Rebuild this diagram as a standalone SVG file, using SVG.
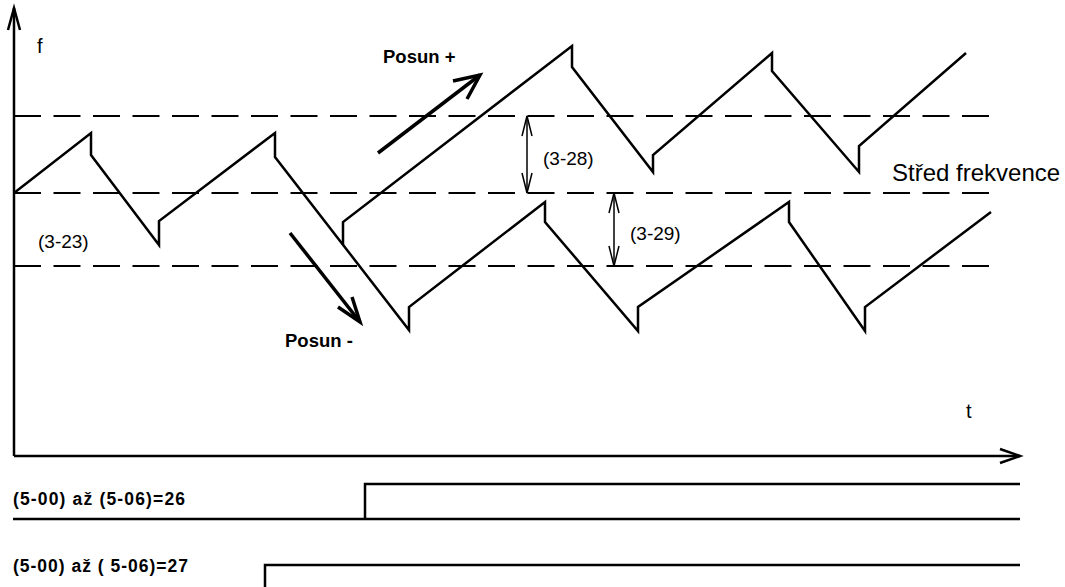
<svg xmlns="http://www.w3.org/2000/svg" width="1065" height="587" viewBox="0 0 1065 587">
<style>
.ax{fill:none;stroke:#000;stroke-width:2.5}
.wv{fill:none;stroke:#000;stroke-width:2.5;stroke-linejoin:miter}
.ds{fill:none;stroke:#000;stroke-width:2;stroke-dasharray:27 12.5}
.dim{fill:none;stroke:#000;stroke-width:1.5}
.sh{fill:none;stroke:#000;stroke-width:3.5}
.sig{fill:none;stroke:#000;stroke-width:2.5}
.t{font-family:"Liberation Sans",Arial,sans-serif;fill:#000}
.b{font-family:"Liberation Sans",Arial,sans-serif;font-weight:bold;fill:#000}
</style>
<rect width="1065" height="587" fill="#fff"/>
<g id="axes">
<polyline class="ax" points="14,456 14,8"/>
<polyline class="ax" points="8,30 14,8 20,30"/>
<polyline class="ax" points="14,456 1020,456"/>
<polyline class="ax" points="1000,449 1020,456 1000,463"/>
</g>
<g id="levels">
<line class="ds" x1="14" y1="116" x2="990" y2="116"/>
<line class="ds" x1="14" y1="193" x2="990" y2="193"/>
<line class="ds" x1="14" y1="266" x2="990" y2="266"/>
</g>
<g id="connectors">
<polyline class="wv" points="14,193 91,133 91,155 159,245 159,221 275,133 275,157 409,330 409,307 545,202 545,222 638,331 638,307 789,202 789,222 865,331 865,307 991,212"/>
<polyline class="wv" points="343,245 343,222 572,46 572,67 653,172 653,155 772,53 772,71 859,172 859,146 966,53"/>
<line class="sh" x1="378" y1="153" x2="480" y2="75"/>
<polyline class="sh" points="453,81 480,75 467,99"/>
<line class="sh" x1="290" y1="233" x2="360" y2="322"/>
<polyline class="sh" points="338,307 360,322 352,297"/>
<line class="dim" x1="527" y1="116" x2="527" y2="193"/>
<polyline class="dim" points="522,136 527,116 532,136"/>
<polyline class="dim" points="522,173 527,193 532,173"/>
<line class="dim" x1="614" y1="193" x2="614" y2="266"/>
<polyline class="dim" points="609,213 614,193 619,213"/>
<polyline class="dim" points="609,246 614,266 619,246"/>
</g>
<g id="signal26">
<polyline class="sig" points="13,519 1020,519"/>
<polyline class="sig" points="365,519 365,484 1020,484"/>
</g>
<g id="signal27">
<polyline class="sig" points="265,590 265,565 1020,565"/>
</g>
<g id="labels">
<text class="t" x="37" y="53" font-size="20">f</text>
<text class="t" x="966" y="418" font-size="20">t</text>
<text class="b" x="383" y="63" font-size="18.5">Posun +</text>
<text class="b" x="285" y="347" font-size="18.5">Posun -</text>
<text class="t" x="543" y="165" font-size="19">(3-28)</text>
<text class="t" x="630" y="240" font-size="19">(3-29)</text>
<text class="t" x="38" y="248" font-size="19">(3-23)</text>
<text class="t" x="892" y="181" font-size="24">Střed frekvence</text>
<text class="b" x="13" y="505" font-size="17.5" textLength="172">(5-00) až  (5-06)=26</text>
<text class="b" x="13" y="572" font-size="17.5" textLength="175">(5-00) až  ( 5-06)=27</text>
</g>
</svg>
